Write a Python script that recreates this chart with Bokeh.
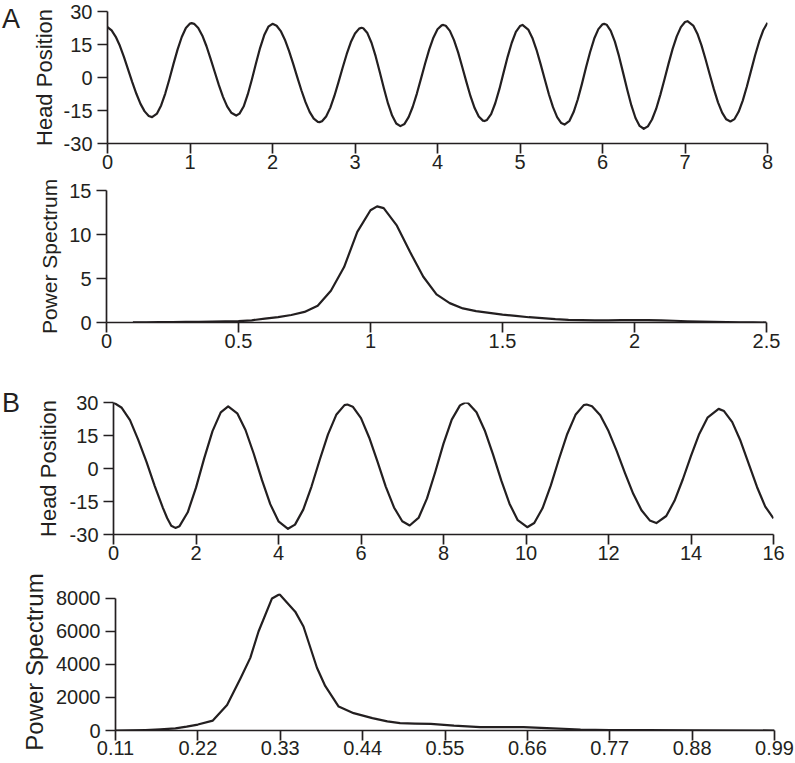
from bokeh.plotting import figure
from bokeh.layouts import column, row
from bokeh.models import Range1d, FixedTicker, Div, Spacer
from bokeh.embed import file_html
from bokeh.resources import INLINE

# ---------------- data ----------------
# Panel A: head position vs time (s)
a_time = [0.0, 0.05, 0.1, 0.15, 0.2, 0.25, 0.3, 0.35, 0.4, 0.45, 0.5, 0.54, 0.6, 0.65, 0.7, 0.75, 0.8, 0.85,
          0.9, 0.95, 1.0, 1.02, 1.05, 1.1, 1.15, 1.2, 1.25, 1.3, 1.35, 1.4, 1.45, 1.5, 1.56, 1.6, 1.65, 1.7,
          1.75, 1.8, 1.85, 1.9, 1.95, 2.0, 2.05, 2.1, 2.15, 2.2, 2.25, 2.3, 2.35, 2.4, 2.45, 2.5, 2.55, 2.57,
          2.6, 2.65, 2.7, 2.75, 2.8, 2.85, 2.9, 2.95, 3.0, 3.05, 3.08, 3.1, 3.15, 3.2, 3.25, 3.3, 3.35, 3.4,
          3.45, 3.5, 3.55, 3.6, 3.65, 3.7, 3.75, 3.8, 3.85, 3.9, 3.95, 4.0, 4.05, 4.07, 4.1, 4.15, 4.2, 4.25,
          4.3, 4.35, 4.4, 4.45, 4.5, 4.55, 4.57, 4.6, 4.65, 4.7, 4.75, 4.8, 4.85, 4.9, 4.95, 5.0, 5.03, 5.1,
          5.15, 5.2, 5.25, 5.3, 5.35, 5.4, 5.45, 5.5, 5.54, 5.6, 5.65, 5.7, 5.75, 5.8, 5.85, 5.9, 5.95, 6.0,
          6.02, 6.05, 6.1, 6.15, 6.2, 6.25, 6.3, 6.35, 6.4, 6.45, 6.5, 6.55, 6.6, 6.65, 6.7, 6.75, 6.8, 6.85,
          6.9, 6.95, 7.0, 7.03, 7.1, 7.15, 7.2, 7.25, 7.3, 7.35, 7.4, 7.45, 7.5, 7.55, 7.6, 7.65, 7.7, 7.75,
          7.8, 7.85, 7.9, 7.95, 8.0]
a_head = [22.9, 21.4, 18.5, 14.4, 9.3, 3.6, -2.1, -7.4, -12.0, -15.4, -17.5, -18.0, -16.4, -12.7, -7.3,
          -0.8, 6.2, 12.8, 18.4, 22.5, 24.5, 24.7, 24.4, 22.5, 19.0, 14.2, 8.5, 2.5, -3.5, -8.8, -13.1, -16.0,
          -17.3, -16.4, -13.2, -7.7, -0.9, 6.5, 13.5, 19.3, 23.1, 24.4, 23.5, 21.1, 17.2, 12.1, 6.3, 0.2, -5.8,
          -11.2, -15.6, -18.7, -20.2, -20.3, -19.9, -17.7, -13.8, -8.4, -2.1, 4.4, 10.7, 16.1, 20.0, 22.2,
          22.6, 22.4, 20.2, 15.8, 9.7, 2.5, -4.9, -11.8, -17.3, -20.9, -22.1, -21.1, -18.0, -13.3, -7.3, -0.5,
          6.4, 12.8, 18.1, 21.9, 23.7, 23.9, 23.5, 21.2, 17.0, 11.4, 4.8, -2.0, -8.5, -13.9, -17.7, -19.6,
          -19.8, -19.3, -16.6, -11.7, -5.3, 2.1, 9.4, 15.8, 20.7, 23.4, 23.9, 21.8, 18.0, 12.6, 6.1, -0.8,
          -7.6, -13.5, -18.0, -20.7, -21.4, -19.7, -15.7, -10.0, -3.0, 4.5, 11.6, 17.7, 22.0, 24.2, 24.4,
          24.0, 21.2, 16.3, 9.7, 2.1, -5.6, -12.7, -18.4, -22.0, -23.3, -22.2, -19.1, -14.3, -8.0, -1.0, 6.2,
          13.0, 18.7, 22.9, 25.2, 25.6, 23.6, 19.9, 14.6, 8.2, 1.4, -5.3, -11.3, -16.0, -19.0, -20.0, -18.9,
          -15.6, -10.5, -4.1, 3.0, 10.1, 16.5, 21.6, 24.9]

# Panel A: power spectrum vs frequency (Hz)
a_freq = [0.10, 0.15, 0.20, 0.25, 0.30, 0.35, 0.40, 0.45, 0.50, 0.55, 0.60, 0.65, 0.70, 0.75, 0.80, 0.85,
          0.90, 0.95, 1.00, 1.025, 1.05, 1.10, 1.15, 1.20, 1.25, 1.30, 1.35, 1.40, 1.45, 1.50, 1.55, 1.60,
          1.65, 1.70, 1.75, 1.80, 1.85, 1.90, 1.95, 2.00, 2.05, 2.10, 2.15, 2.20, 2.25, 2.30, 2.35, 2.40,
          2.45, 2.50]
a_power = [0.02, 0.03, 0.04, 0.05, 0.06, 0.08, 0.10, 0.12, 0.15, 0.25, 0.45, 0.62, 0.85, 1.2, 1.9, 3.6,
           6.3, 10.3, 12.75, 13.2, 13.0, 11.0, 8.0, 5.2, 3.2, 2.2, 1.6, 1.3, 1.1, 0.9, 0.75, 0.6, 0.5, 0.38,
           0.3, 0.27, 0.25, 0.25, 0.27, 0.28, 0.28, 0.25, 0.2, 0.14, 0.1, 0.06, 0.04, 0.02, 0.01, 0.0]

# Panel B: head position vs time (s)
b_time = [0.0, 0.2, 0.4, 0.6, 0.8, 1.0, 1.2, 1.3, 1.4, 1.5, 1.6, 1.8, 2.0, 2.2, 2.4, 2.6, 2.78, 3.0, 3.2,
          3.4, 3.6, 3.8, 4.0, 4.23, 4.4, 4.6, 4.8, 5.0, 5.2, 5.4, 5.6, 5.67, 5.8, 6.0, 6.2, 6.4, 6.6, 6.8,
          7.0, 7.18, 7.4, 7.6, 7.8, 8.0, 8.2, 8.4, 8.53, 8.6, 8.8, 9.0, 9.2, 9.4, 9.6, 9.8, 10.03, 10.2,
          10.4, 10.6, 10.8, 11.0, 11.2, 11.4, 11.47, 11.6, 11.8, 12.0, 12.2, 12.4, 12.6, 12.8, 13.0, 13.16,
          13.4, 13.6, 13.8, 14.0, 14.2, 14.4, 14.67, 14.8, 15.0, 15.2, 15.4, 15.6, 15.8, 16.0]
b_head = [30.0, 27.6, 22.0, 13.0, 3.0, -8.0, -18.0, -22.5, -26.0, -27.0, -26.2, -19.9, -8.7, 4.7, 17.0,
          25.5, 28.2, 25.1, 17.5, 6.7, -5.3, -16.2, -24.0, -27.4, -25.5, -18.7, -8.2, 4.0, 15.5, 24.4, 28.8,
          29.1, 28.1, 22.9, 14.0, 3.1, -8.2, -17.7, -24.0, -25.9, -22.3, -13.6, -1.6, 11.3, 22.2, 28.7, 30.0,
          29.7, 25.6, 17.3, 6.4, -5.4, -16.0, -23.5, -26.7, -24.8, -18.1, -7.8, 4.3, 15.7, 24.4, 28.8, 29.1,
          28.3, 24.2, 17.0, 7.9, -2.1, -11.5, -19.0, -23.6, -24.8, -21.6, -14.7, -5.0, 5.7, 15.7, 23.1,
          27.1, 26.1, 21.1, 12.6, 2.1, -8.4, -17.3, -22.7]

# Panel B: power spectrum vs frequency (Hz)
b_freq = [0.11, 0.13, 0.15, 0.17, 0.19, 0.205, 0.22, 0.24, 0.259, 0.277, 0.29, 0.301, 0.319, 0.329,
          0.35, 0.361, 0.379, 0.39, 0.408, 0.428, 0.453, 0.473, 0.49, 0.51, 0.531, 0.562, 0.597, 0.63,
          0.655, 0.686, 0.731, 0.77, 0.82, 0.88, 0.99]
b_power = [0, 10, 30, 70, 130, 230, 360, 600, 1550, 3170, 4400, 6000, 8000, 8250, 7200, 6300, 3800,
           2700, 1450, 1050, 750, 550, 450, 420, 400, 290, 210, 200, 200, 140, 60, 30, 20, 10, 0]

# tick values and labels
a_head_xticks = [0, 1, 2, 3, 4, 5, 6, 7, 8]
head_yticks = [-30, -15, 0, 15, 30]
head_ylabels = ["-30", "-15", "0", "15", "30"]
a_pow_xticks = [0, 0.5, 1, 1.5, 2, 2.5]
a_pow_xlabels = ["0", "0.5", "1", "1.5", "2", "2.5"]
a_pow_yticks = [0, 5, 10, 15]
b_head_xticks = [0, 2, 4, 6, 8, 10, 12, 14, 16]
b_pow_xticks = [0.11, 0.22, 0.33, 0.44, 0.55, 0.66, 0.77, 0.88, 0.99]
b_pow_xlabels = ["0.11", "0.22", "0.33", "0.44", "0.55", "0.66", "0.77", "0.88", "0.99"]
b_pow_yticks = [0, 2000, 4000, 6000, 8000]

FONT = "Liberation Sans"
INK = "#231f20"
TOTAL_W = 795


def make_fig(w, h, left, right, top, bottom, xr, yr, title_size, title_standoff):
    p = figure(width=w, height=h, x_range=Range1d(*xr), y_range=Range1d(*yr),
               output_backend="svg", toolbar_location=None,
               min_border_left=left, min_border_right=right,
               min_border_top=top, min_border_bottom=bottom)
    p.outline_line_color = None
    p.xgrid.visible = False
    p.ygrid.visible = False
    p.background_fill_color = "white"
    p.border_fill_color = "white"
    for ax in (p.xaxis[0], p.yaxis[0]):
        ax.axis_line_width = 1.7
        ax.axis_line_color = INK
        ax.major_tick_line_width = 1.7
        ax.major_tick_line_color = INK
        ax.major_tick_in = 0
        ax.major_tick_out = 10
        ax.minor_tick_line_color = None
        ax.major_label_text_font = FONT
        ax.major_label_text_font_size = "20px"
        ax.major_label_text_color = INK
        ax.axis_label_text_font = FONT
        ax.axis_label_text_font_size = title_size
        ax.axis_label_text_font_style = "normal"
        ax.axis_label_text_color = INK
    p.xaxis[0].major_label_standoff = 1
    p.yaxis[0].major_label_standoff = 5
    p.yaxis[0].axis_label_standoff = title_standoff
    return p


def letter(text, pad_top, w):
    return Div(text=text, width=w, height=60, margin=0,
               styles={"font-family": FONT, "font-size": "27px", "color": INK,
                       "padding-top": f"{pad_top}px", "padding-left": "2px", "line-height": "1"})


# Panel A head position
W1 = 20
p1 = make_fig(TOTAL_W - W1, 177, 87, 28, 11, 34, (0, 8), (-30, 30), "22px", 4)
p1.line(a_time, a_head, line_color=INK, line_width=2.2, line_join="round")
p1.xaxis[0].ticker = FixedTicker(ticks=a_head_xticks)
p1.yaxis[0].ticker = FixedTicker(ticks=head_yticks)
p1.yaxis[0].major_label_overrides = dict(zip(head_yticks, head_ylabels))
p1.yaxis[0].axis_label = "Head Position"

# Panel A power spectrum
W2 = 20
p2 = make_fig(TOTAL_W - W2, 181, 86, 29, 13, 36, (0, 2.5), (0, 15), "21px", 5)
p2.line(a_freq, a_power, line_color=INK, line_width=2.2, line_join="round")
p2.xaxis[0].ticker = FixedTicker(ticks=a_pow_xticks)
p2.xaxis[0].major_label_overrides = dict(zip(a_pow_xticks, a_pow_xlabels))
p2.yaxis[0].ticker = FixedTicker(ticks=a_pow_yticks)
p2.yaxis[0].axis_label = "Power Spectrum"

# Panel B head position
W3 = 20
p3 = make_fig(TOTAL_W - W3, 212, 93, 22, 44, 36, (0, 16), (-30, 30), "22px", 6)
p3.line(b_time, b_head, line_color=INK, line_width=2.2, line_join="round")
p3.xaxis[0].ticker = FixedTicker(ticks=b_head_xticks)
p3.yaxis[0].ticker = FixedTicker(ticks=head_yticks)
p3.yaxis[0].major_label_overrides = dict(zip(head_yticks, head_ylabels))
p3.yaxis[0].axis_label = "Head Position"

# Panel B power spectrum
W4 = 16
p4 = make_fig(TOTAL_W - W4, 193, 99, 21, 23, 33, (0.11, 0.99), (0, 8300), "24px", 5)
p4.line(b_freq, b_power, line_color=INK, line_width=2.2, line_join="round")
p4.xaxis[0].ticker = FixedTicker(ticks=b_pow_xticks)
p4.xaxis[0].major_label_overrides = dict(zip(b_pow_xticks, b_pow_xlabels))
p4.xaxis[0].major_label_standoff = 0
p4.yaxis[0].ticker = FixedTicker(ticks=b_pow_yticks)
p4.yaxis[0].bounds = (0, 8000)
p4.yaxis[0].axis_label = "Power Spectrum"

layout = column(
    row(letter("A", 6, W1), p1, spacing=0),
    row(Spacer(width=W2, height=10, margin=0), p2, spacing=0),
    row(letter("B", 32, W3), p3, spacing=0),
    row(Spacer(width=W4, height=10, margin=0), p4, spacing=0),
    spacing=0,
)
open("out.html", "w").write(file_html(layout, INLINE))
